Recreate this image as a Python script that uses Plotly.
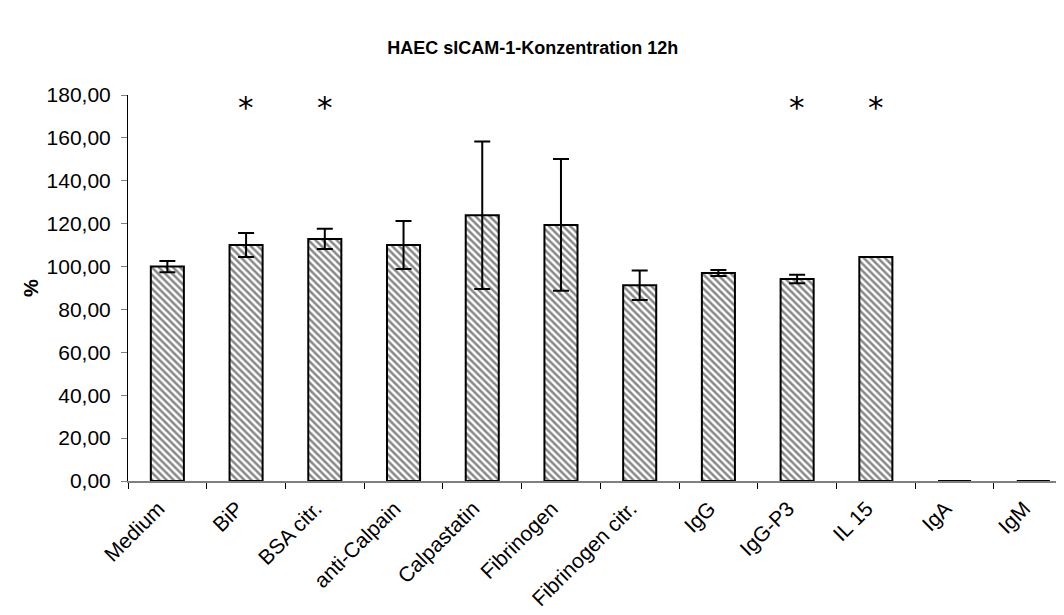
import plotly.graph_objects as go

categories = ["Medium", "BiP", "BSA citr.", "anti-Calpain", "Calpastatin", "Fibrinogen",
              "Fibrinogen citr.", "IgG", "IgG-P3", "IL 15", "IgA", "IgM"]
values = [100.0, 110.1, 112.9, 110.1, 123.9, 119.4, 91.3, 97.0, 94.2, 104.5, 0.0, 0.0]
errors = [2.6, 5.6, 4.7, 11.2, 34.4, 30.7, 6.9, 1.4, 2.0, 0.0, 0.0, 0.0]
significant = ["BiP", "BSA citr.", "IgG-P3", "IL 15"]
star_level = 174.5
tick_vals = [0, 20, 40, 60, 80, 100, 120, 140, 160, 180]
tick_text = ["0,00", "20,00", "40,00", "60,00", "80,00", "100,00", "120,00", "140,00", "160,00", "180,00"]

fig = go.Figure()
fig.add_trace(go.Bar(
    x=categories, y=values, width=0.42,
    marker=dict(color="white", line=dict(color="black", width=2),
                pattern=dict(shape="\\", fgcolor="#111111", bgcolor="white", size=5, solidity=0.5)),
    error_y=dict(type="data", array=errors, visible=True, color="black", thickness=2, width=8),
    showlegend=False,
))

for c in significant:
    fig.add_annotation(x=c, y=star_level, xref="x", yref="y", text="*", showarrow=False,
                       font=dict(family="DejaVu Sans", size=31, color="black"))

fig.update_layout(
    width=1056, height=607,
    margin=dict(l=120, r=0, t=87, b=134),
    paper_bgcolor="white", plot_bgcolor="white",
    font=dict(family="Liberation Sans, Arial", color="black"),
    title=dict(text="<b>HAEC sICAM-1-Konzentration 12h</b>", x=0.497, xref="container",
               xanchor="center", y=0.934, yref="container",
               yanchor="middle", font=dict(size=18, family="Liberation Sans, Arial")),
    bargap=0.58,
)
fig.update_xaxes(
    type="category", range=[-0.5, 11.39], tickson="boundaries",
    ticks="outside", ticklen=6, tickcolor="#000000", tickwidth=1,
    showline=True, linecolor="#808080", linewidth=2,
    tickangle=-45, tickfont=dict(size=21), showgrid=False,
    ticklabelshift=-9, ticklabelstandoff=5,
)
fig.update_yaxes(
    range=[0, 180], tickvals=tick_vals, ticktext=tick_text,
    ticks="outside", ticklen=6, tickcolor="#808080", tickwidth=1,
    showline=True, linecolor="#000000", linewidth=1,
    tickfont=dict(size=21), showgrid=False, zeroline=False,
    ticklabelstandoff=6,
    title=dict(text="<b>%</b>", font=dict(size=20), standoff=2),
)

fig.write_html("out.html")
